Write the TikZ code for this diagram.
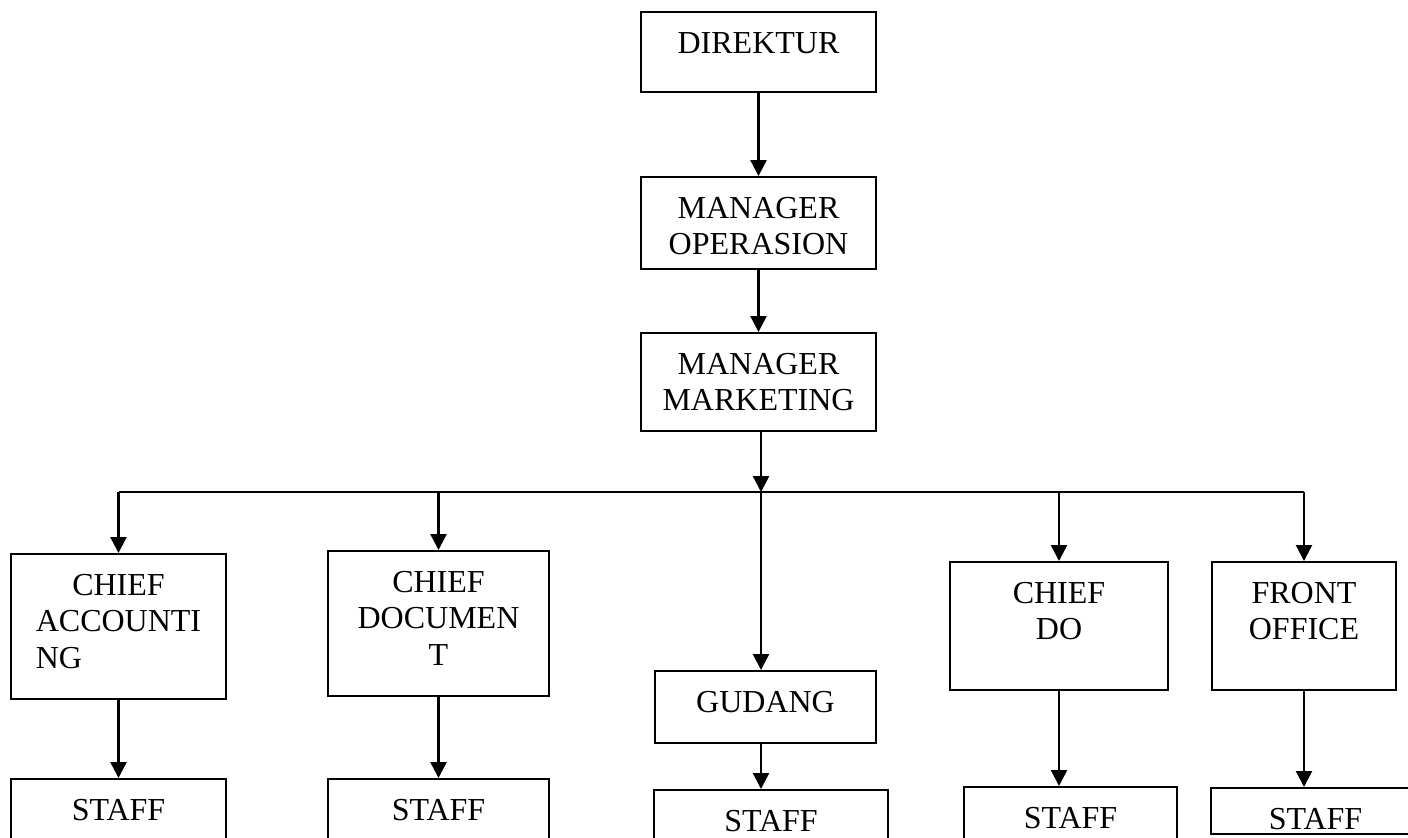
\documentclass[tikz,border=0pt]{standalone}
\usepackage{fontspec}
\setmainfont{Liberation Serif}
\usetikzlibrary{arrows.meta}

\newcommand{\rows}[1]{\begin{tabular}[t]{@{}c@{}}#1\end{tabular}}

\begin{document}
\begin{tikzpicture}[x=0.5pt, y=-0.5pt,
    unit/.style={draw, line width=1.2pt, anchor=north, inner xsep=0pt, inner ysep=0pt,
        text height=20.5pt, font=\fontsize{16pt}{18.35pt}\selectfont},
    arrow/.style={line width=1.2pt, -{Triangle[length=8pt,width=8pt]}},
    wire/.style={line width=1.2pt}
]
    \useasboundingbox (0,0) rectangle (1408,837);
    \clip (0,0) rectangle (1408,837);

    % top of the chart
    \node[unit, minimum width=117.5pt, text depth=19.5pt] (dir) at (758.5,11) {DIREKTUR};
    \node[unit, minimum width=117.5pt, text depth=25.5pt] (mop) at (758.5,176) {\rows{MANAGER\\OPERASION}};
    \node[unit, minimum width=117.5pt, text depth=28.5pt] (mmk) at (758.5,332) {\rows{MANAGER\\MARKETING}};

    % chiefs
    \node[unit, minimum width=107.5pt, text depth=52pt] (acct) at (118.5,553) {\rows{CHIEF\\ACCOUNTI\\\rlap{NG}\phantom{ACCOUNTI}}};
    \node[unit, minimum width=110.5pt, text depth=52pt] (doc) at (438.5,550) {\rows{CHIEF\\DOCUMEN\\T}};
    \node[unit, minimum width=110.5pt, text depth=15.5pt] (gud) at (765.5,670) {GUDANG};
    \node[unit, minimum width=109pt, text depth=43.5pt] (cdo) at (1059,561) {\rows{CHIEF\\DO}};
    \node[unit, minimum width=92pt, text depth=43.5pt] (fo) at (1304,561) {\rows{FRONT\\OFFICE}};

    % staff
    \node[unit, minimum width=107.5pt, text depth=19.5pt] (s1) at (118.5,778) {STAFF};
    \node[unit, minimum width=110.5pt, text depth=19.5pt] (s2) at (438.5,778) {STAFF};
    \node[unit, minimum width=117pt, text depth=14.5pt] (s3) at (771,789) {STAFF};
    \node[unit, minimum width=106.5pt, text depth=14.5pt] (s4) at (1070.5,786) {STAFF};
    \node[unit, minimum width=104.5pt, text depth=2.5pt] (s5) at (1315.5,787) {STAFF};

    \coordinate (hub) at (761,492);

    % connectors
    \draw[arrow] (dir) -- (mop);
    \draw[arrow] (mop) -- (mmk);
    \draw[arrow] (mmk.south -| hub) -- (hub);
    \draw[wire] (acct.north |- hub) -- (fo.north |- hub);
    \draw[arrow] (acct.north |- hub) -- (acct.north);
    \draw[arrow] (doc.north |- hub) -- (doc.north);
    \draw[arrow] (hub) -- (hub |- gud.north);
    \draw[arrow] (cdo.north |- hub) -- (cdo.north);
    \draw[arrow] (fo.north |- hub) -- (fo.north);

    \draw[arrow] (acct.south) -- (acct.south |- s1.north);
    \draw[arrow] (doc.south) -- (doc.south |- s2.north);
    \draw[arrow] (gud.south -| hub) -- (hub |- s3.north);
    \draw[arrow] (cdo.south) -- (cdo.south |- s4.north);
    \draw[arrow] (fo.south) -- (fo.south |- s5.north);
\end{tikzpicture}
\end{document}
